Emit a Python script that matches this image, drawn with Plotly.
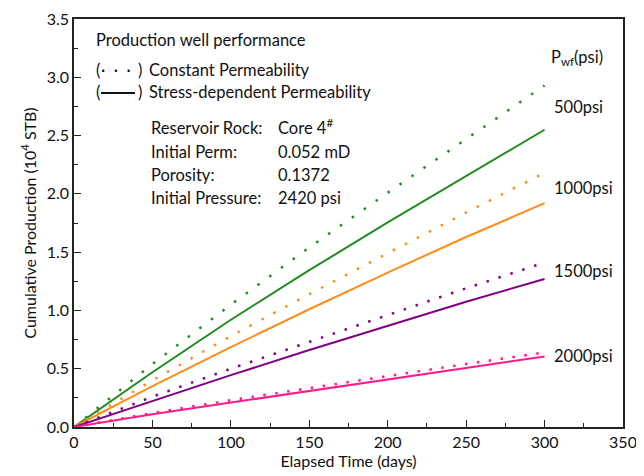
import plotly.graph_objects as go

days = [0, 50, 100, 150, 200, 250, 300]

const_500 = [0, 0.54, 1.05, 1.54, 2.01, 2.47, 2.93]
stress_500 = [0, 0.47, 0.92, 1.345, 1.755, 2.155, 2.55]
const_1000 = [0, 0.40, 0.78, 1.14, 1.49, 1.84, 2.18]
stress_1000 = [0, 0.35, 0.685, 1.01, 1.325, 1.63, 1.92]
const_1500 = [0, 0.26, 0.50, 0.73, 0.96, 1.19, 1.41]
stress_1500 = [0, 0.225, 0.445, 0.66, 0.87, 1.075, 1.27]
const_2000 = [0, 0.12, 0.23, 0.335, 0.44, 0.54, 0.64]
stress_2000 = [0, 0.11, 0.21, 0.31, 0.41, 0.51, 0.605]

pwf_labels = ["500psi", "1000psi", "1500psi", "2000psi"]
colors = ["#1E8C1E", "#FF8C1A", "#800080", "#FF1A8C"]
dashes = ["2.5px,12px", "2.5px,11px", "2.5px,10px", "2.5px,9.5px"]

const_series = [const_500, const_1000, const_1500, const_2000]
stress_series = [stress_500, stress_1000, stress_1500, stress_2000]

FONT = "Lato, 'Open Sans', sans-serif"

fig = go.Figure()
for c, s, col, d in zip(const_series, stress_series, colors, dashes):
    fig.add_trace(go.Scatter(x=days, y=c, mode="lines",
                             line=dict(color=col, width=2.5, dash=d),
                             showlegend=False, hoverinfo="skip"))
    fig.add_trace(go.Scatter(x=days, y=s, mode="lines",
                             line=dict(color=col, width=2),
                             showlegend=False, hoverinfo="skip"))

# page has an 8px body margin; figure coordinates are screen minus 8
OFF = 8
W, H = 636, 468
L, R, T, B = 74 - OFF, 623 - OFF, 19 - OFF, 427.3 - OFF
PW, PH = R - L, B - T

def px(xp):
    return (xp - OFF - L) / PW

def py(yp):
    return (B - (yp - OFF)) / PH

anns = []
def add(text, xp, yp, size=16.5, anchor="left"):
    anns.append(dict(text=text, x=px(xp), y=py(yp), xref="paper", yref="paper",
                     xanchor=anchor, yanchor="middle", showarrow=False,
                     font=dict(family=FONT, size=size, color="#111")))

add("Production well performance", 94, 40)
add("(", 94, 70)
add("\u00b7\u00a0\u00a0\u00b7\u00a0\u00a0\u00b7", 116, 70, anchor="center")
add(")", 136, 70)
add("Constant Permeability", 147, 70)
add("(", 94, 92)
add(")", 136, 92)
add("Stress-dependent Permeability", 147, 92)
add("Reservoir Rock:", 149, 128)
add("Core 4<sup>#</sup>", 276, 127)
add("Initial Perm:", 149, 152)
add("0.052 mD", 276, 152)
add("Porosity:", 149, 175)
add("0.1372", 276, 175)
add("Initial Pressure:", 149, 198)
add("2420 psi", 276, 198)
add("P<sub>wf</sub>(psi)", 549, 58)
for lab, yp in zip(pwf_labels, [107, 188, 271, 356]):
    add(lab, 552, yp)

shapes = [dict(type="line", xref="paper", yref="paper",
               x0=px(101), x1=px(135), y0=py(93), y1=py(93),
               line=dict(color="#111", width=2))]

fig.update_layout(
    width=W, height=H,
    margin=dict(l=L, r=W - R, t=T, b=H - B, autoexpand=False),
    paper_bgcolor="white", plot_bgcolor="white",
    font=dict(family=FONT, size=16, color="#111"),
    annotations=anns, shapes=shapes,
    xaxis=dict(range=[0, 350], dtick=50, tick0=0, ticks="inside", ticklen=7,
               tickwidth=1.3, tickcolor="#222",
               minor=dict(dtick=25, ticks="inside", ticklen=4, tickcolor="#222", tickwidth=1.3),
               showline=True, linecolor="#222", linewidth=1.5, mirror=True,
               showgrid=False, zeroline=False, automargin=False,
               title=dict(text="Elapsed Time (days)", standoff=4, font=dict(size=16)),
               tickfont=dict(size=16)),
    yaxis=dict(range=[0, 3.5], dtick=0.5, tick0=0, ticks="inside", ticklen=7,
               tickwidth=1.3, tickcolor="#222", tickformat=".1f",
               minor=dict(dtick=0.25, ticks="inside", ticklen=4, tickcolor="#222", tickwidth=1.3),
               showline=True, linecolor="#222", linewidth=1.5, mirror=True,
               showgrid=False, zeroline=False, automargin=False,
               title=dict(text="Cumulative Production (10<sup>4</sup> STB)", standoff=6, font=dict(size=16)),
               tickfont=dict(size=16)),
)

fig.write_html("out.html")
